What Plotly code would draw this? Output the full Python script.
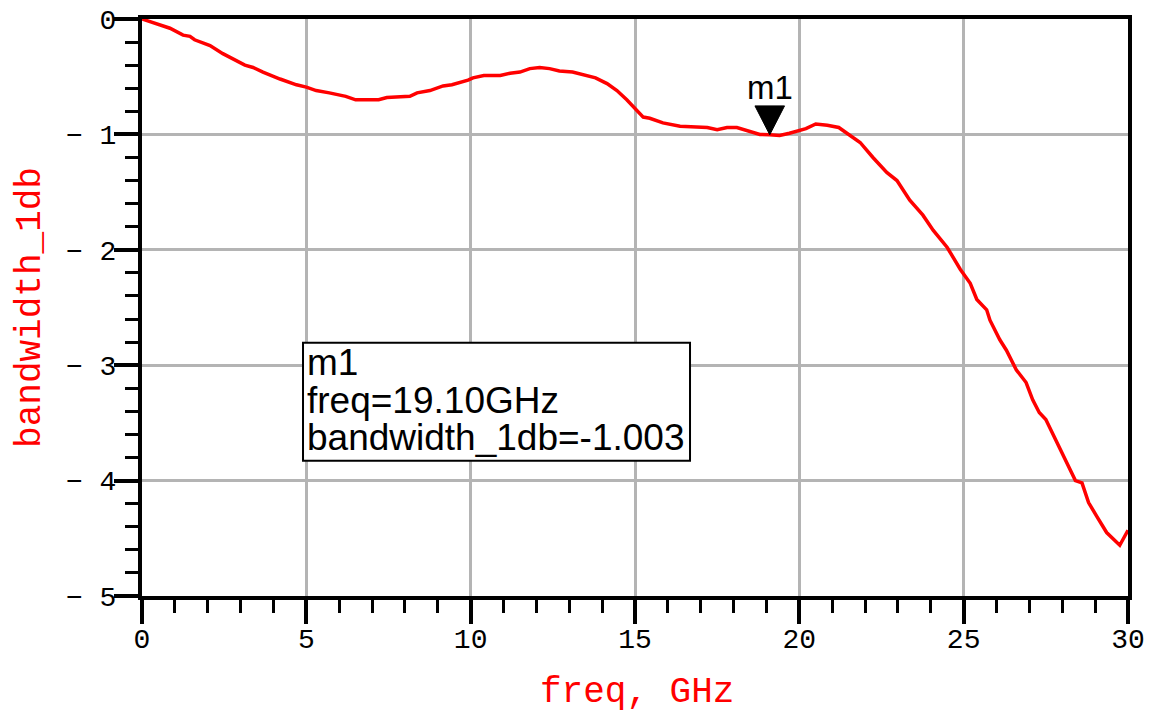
import plotly.graph_objects as go

freq_ghz = [0, 0.55, 0.85, 1.25, 1.46, 1.6, 2.07, 2.46, 2.89, 3.13, 3.38, 3.68, 4.2, 4.7, 5.0,
            5.3, 5.7, 6.2, 6.5, 7.2, 7.45, 8.15, 8.37, 8.76, 9.16, 9.43, 9.92, 10.07, 10.4,
            10.9, 11.2, 11.5, 11.8, 12.1, 12.4, 12.7, 13.1, 13.5, 13.8, 14.15, 14.45, 14.75,
            15.06, 15.25, 15.45, 15.85, 16.37, 17.2, 17.5, 17.8, 18.1, 18.5, 18.8, 19.1, 19.4,
            19.7, 20.0, 20.2, 20.5, 20.85, 21.2, 21.45, 21.85, 22.24, 22.66, 22.97, 23.36,
            23.76, 24.07, 24.5, 24.9, 25.2, 25.4, 25.7, 25.8, 26.1, 26.3, 26.6, 26.9, 27.1,
            27.3, 27.5, 27.8, 28.1, 28.4, 28.6, 28.8, 29.05, 29.35, 29.75, 30.0]
bandwidth_1db = [0, -0.05, -0.08, -0.14, -0.15, -0.18, -0.23, -0.30, -0.36, -0.40, -0.42, -0.46,
                 -0.52, -0.57, -0.59, -0.62, -0.64, -0.67, -0.70, -0.70, -0.68, -0.67, -0.64,
                 -0.62, -0.58, -0.57, -0.53, -0.51, -0.49, -0.49, -0.47, -0.46, -0.43, -0.42,
                 -0.43, -0.45, -0.46, -0.49, -0.51, -0.56, -0.62, -0.70, -0.80, -0.85, -0.86,
                 -0.90, -0.93, -0.94, -0.96, -0.94, -0.94, -0.97, -1.00, -1.003, -1.01, -0.99,
                 -0.97, -0.95, -0.91, -0.92, -0.94, -0.99, -1.07, -1.20, -1.33, -1.40, -1.57,
                 -1.70, -1.83, -1.98, -2.17, -2.29, -2.43, -2.52, -2.61, -2.78, -2.87, -3.04,
                 -3.15, -3.30, -3.41, -3.47, -3.65, -3.82, -4.00, -4.02, -4.19, -4.31, -4.45,
                 -4.56, -4.43]

marker_name = "m1"
marker_freq = 19.10
marker_value = -1.003

x_ticks = [0, 5, 10, 15, 20, 25, 30]
y_ticks = [0, -1, -2, -3, -4, -5]
y_ticktext = ["0", "\u2212 1", "\u2212 2", "\u2212 3", "\u2212 4", "\u2212 5"]
x_title = "freq, GHz"
y_title = "bandwidth_1db"

fig = go.Figure()
fig.add_trace(go.Scatter(x=freq_ghz, y=bandwidth_1db, mode="lines",
                         line=dict(color="#ff0000", width=3.5), showlegend=False,
                         hoverinfo="skip", cliponaxis=True))

# marker triangle (apex at the marker point)
tri_h = 0.25
tri_w = 0.45
fig.add_trace(go.Scatter(x=[marker_freq - tri_w, marker_freq + tri_w, marker_freq, marker_freq - tri_w],
                         y=[marker_value + tri_h, marker_value + tri_h, marker_value, marker_value + tri_h],
                         mode="lines", fill="toself", fillcolor="black",
                         line=dict(color="black", width=1), showlegend=False, hoverinfo="skip"))
fig.add_annotation(x=marker_freq, y=marker_value + tri_h, text=marker_name, showarrow=False,
                   xanchor="center", yanchor="bottom", yshift=-2,
                   font=dict(family="Liberation Sans", size=33, color="black"))

# marker readout box
box_x0, box_x1 = 0.1633, 0.5558
box_y0, box_y1 = 0.2346, 0.4391
fig.add_shape(type="rect", xref="paper", yref="paper", x0=box_x0, x1=box_x1, y0=box_y0, y1=box_y1,
              line=dict(color="black", width=2), fillcolor="white", layer="above")
lines = [marker_name, f"freq={marker_freq:.2f}GHz", f"bandwidth_1db={marker_value:.3f}"]
for i, t in enumerate(lines):
    fig.add_annotation(xref="paper", yref="paper", x=box_x0 + 0.002, y=box_y1 + 0.004 - i * 0.0647,
                       text=t, showarrow=False, xanchor="left", yanchor="top",
                       font=dict(family="Liberation Sans", size=37, color="black"))

tickfont = dict(family="Liberation Mono", size=28, color="black")
titlefont = dict(family="Liberation Mono", size=36, color="#ff0000")

fig.add_annotation(xref="paper", yref="paper", x=0.502, y=-0.168, text=x_title, showarrow=False,
                   xanchor="center", yanchor="middle", font=titlefont)
fig.add_annotation(xref="paper", yref="paper", x=-0.1126, y=0.501, text=y_title, showarrow=False,
                   xanchor="center", yanchor="middle", textangle=-90, font=titlefont)

fig.update_xaxes(range=[0, 30], tickvals=x_ticks, ticktext=[str(v) for v in x_ticks],
                 showline=True, linecolor="black", linewidth=4, mirror=True,
                 ticks="outside", ticklen=24, tickwidth=4, tickcolor="black",
                 showgrid=True, gridcolor="#b4b4b4", gridwidth=3, zeroline=False,
                 tickfont=tickfont, automargin=False, ticklabelstandoff=-10,
                 ticklabeloverflow="allow",
                 minor=dict(dtick=1, tick0=0, ticks="outside", ticklen=13, tickwidth=3,
                            tickcolor="black", showgrid=False))
fig.update_yaxes(range=[-5, 0], tickvals=y_ticks, ticktext=y_ticktext,
                 showline=True, linecolor="black", linewidth=4, mirror=True,
                 ticks="outside", ticklen=24, tickwidth=4, tickcolor="black",
                 showgrid=True, gridcolor="#b4b4b4", gridwidth=3, zeroline=False,
                 tickfont=tickfont, automargin=False, ticklabelstandoff=-8,
                 ticklabeloverflow="allow",
                 minor=dict(dtick=0.2, tick0=0, ticks="outside", ticklen=13, tickwidth=3,
                            tickcolor="black", showgrid=False))

fig.update_layout(width=1153, height=718, margin=dict(l=134, r=33, t=11, b=130),
                  plot_bgcolor="white", paper_bgcolor="white")

fig.write_html("out.html")
